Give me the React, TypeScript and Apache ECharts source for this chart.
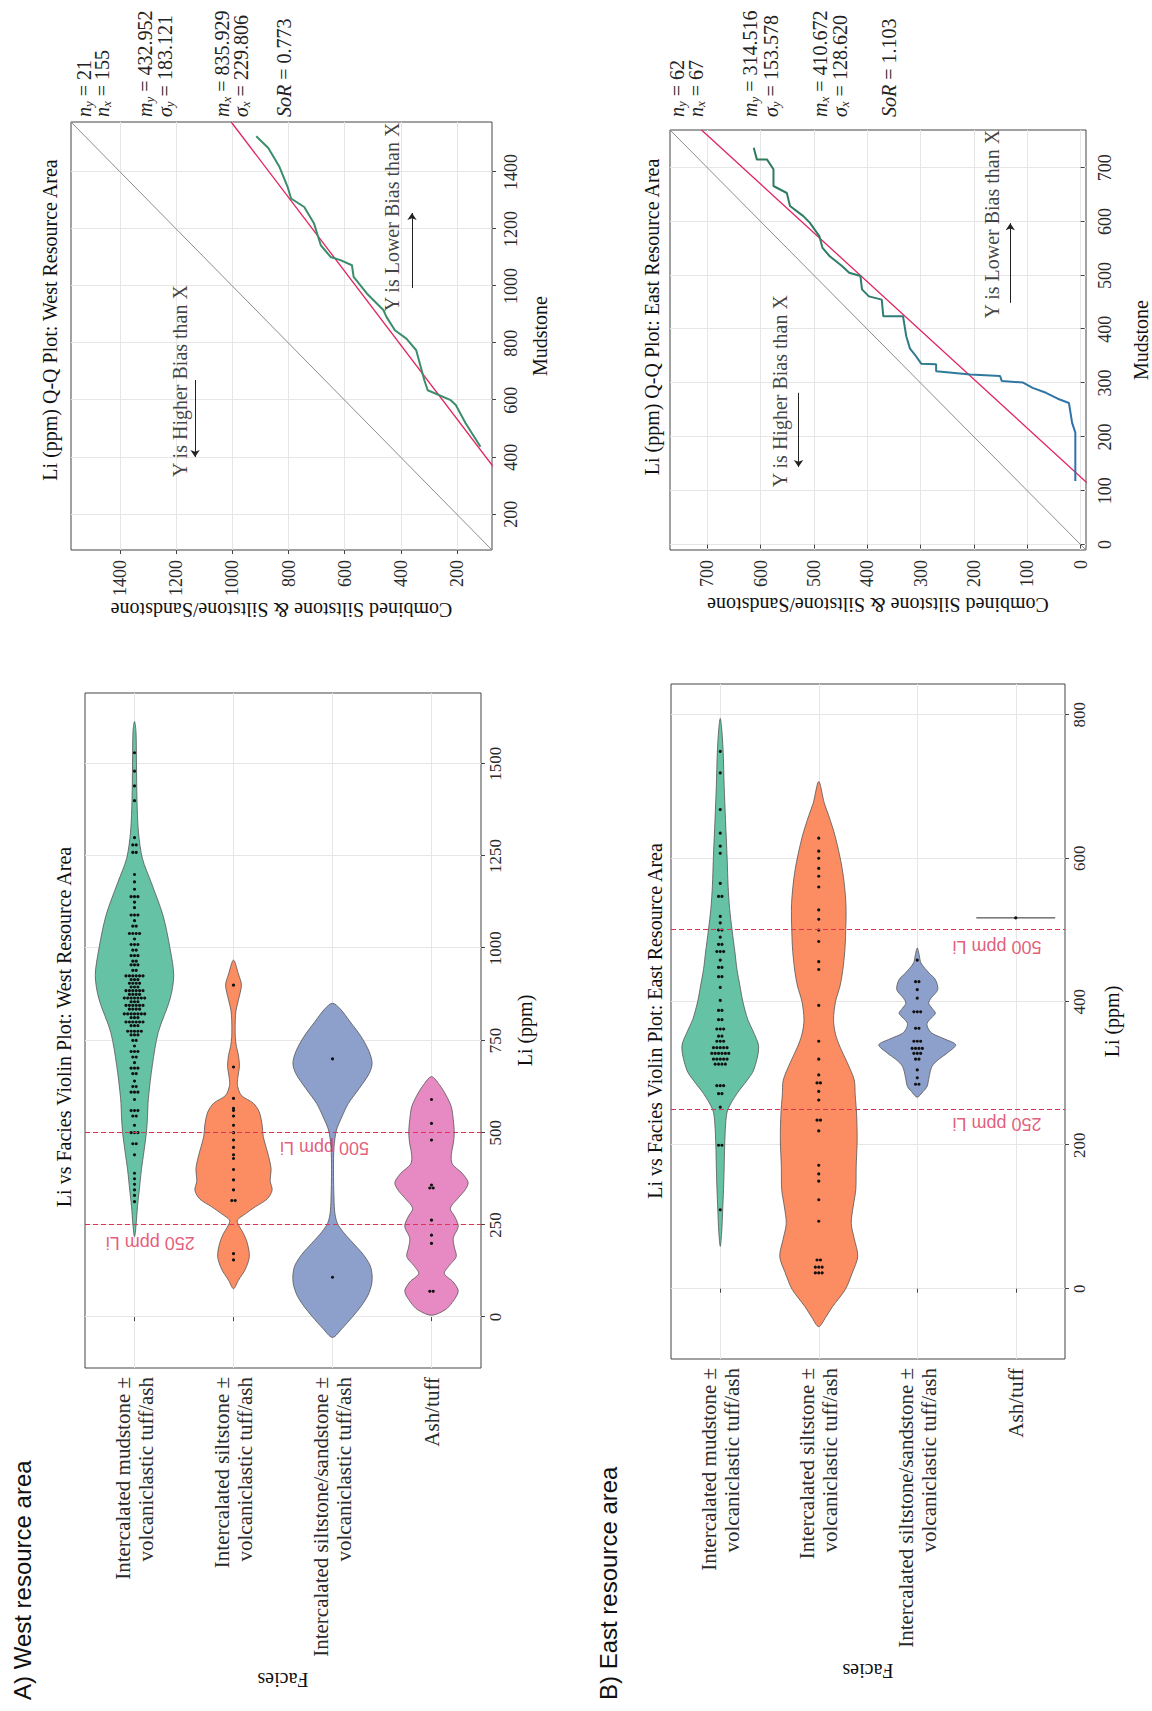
import React, { useEffect, useRef } from 'react';
import * as echarts from 'echarts';

// ---------------- data ----------------
const FACIES = [
  'Intercalated mudstone ±\nvolcaniclastic tuff/ash',
  'Intercalated siltstone ±\nvolcaniclastic tuff/ash',
  'Intercalated siltstone/sandstone ±\nvolcaniclastic tuff/ash',
  'Ash/tuff',
];
const FACIES_POS = [1, 2, 3, 4];

const WEST_LI_TICKS = [0, 250, 500, 750, 1000, 1250, 1500];
const EAST_LI_TICKS = [0, 200, 400, 600, 800];
const WEST_QQ_TICKS = [200, 400, 600, 800, 1000, 1200, 1400];
const EAST_QQ_TICKS = [0, 100, 200, 300, 400, 500, 600, 700];

const WEST_LI_RANGE = [-138, 1692];
const EAST_LI_RANGE = [-98, 843];
const WEST_QQ_RANGE = [75, 1575];
const EAST_QQ_RANGE = [-10, 770];

const THRESHOLDS = [250, 500];
const THRESHOLD_NAMES = ['250 ppm Li', '500 ppm Li'];
const WEST_THRESHOLD_LABEL_POS = [[201, 1.16], [459, 2.92]];
const EAST_THRESHOLD_LABEL_POS = [[229, 3.81], [477, 3.81]];

// violin density profiles: [Li ppm, relative half-width]
const westMudstoneViolin = [[218, 0], [250, 0.04], [300, 0.075], [344, 0.12], [400, 0.175], [450, 0.24], [500, 0.3], [537, 0.325], [592, 0.35], [682, 0.45], [772, 0.6], [863, 0.9], [926, 0.99], [998, 0.9], [1089, 0.72], [1179, 0.42], [1243, 0.2], [1315, 0.1], [1405, 0.062], [1500, 0.05], [1587, 0.038], [1615, 0]];
const westSiltstoneViolin = [[77, 0], [100, 0.125], [130, 0.3], [164, 0.4], [200, 0.35], [227, 0.25], [250, 0.125], [263, 0.1], [280, 0.3], [299, 0.55], [320, 0.85], [344, 0.975], [370, 0.925], [400, 0.95], [430, 0.9], [460, 0.825], [490, 0.75], [520, 0.725], [556, 0.65], [580, 0.5], [601, 0.2], [628, 0.1], [650, 0.11], [680, 0.15], [710, 0.125], [733, 0.075], [760, 0.045], [805, 0.045], [832, 0.065], [860, 0.125], [900, 0.2], [930, 0.125], [968, 0]];
const westSandstoneViolin = [[-55, 0], [-30, 0.25], [0, 0.5], [30, 0.725], [60, 0.9], [90, 0.99], [114, 1], [140, 0.95], [170, 0.775], [200, 0.525], [230, 0.275], [254, 0.125], [280, 0.062], [320, 0.038], [400, 0.025], [460, 0.038], [507, 0.1], [540, 0.225], [579, 0.4], [620, 0.675], [660, 0.925], [688, 1], [720, 0.925], [760, 0.725], [800, 0.45], [835, 0.2], [851, 0]];
const westAshViolin = [[5, 0], [20, 0.35], [40, 0.525], [70, 0.675], [95, 0.55], [118, 0.325], [140, 0.45], [164, 0.625], [190, 0.575], [215, 0.55], [245, 0.675], [270, 0.6], [295, 0.475], [320, 0.65], [345, 0.85], [365, 0.925], [390, 0.775], [415, 0.525], [440, 0.5], [470, 0.55], [500, 0.575], [535, 0.55], [570, 0.5], [600, 0.375], [630, 0.2], [652, 0]];

const eastMudstoneViolin = [[59, 0], [80, 0.038], [110, 0.062], [138, 0.083], [170, 0.1], [200, 0.112], [230, 0.138], [249, 0.188], [272, 0.425], [290, 0.675], [305, 0.85], [337, 0.975], [360, 0.825], [375, 0.7], [400, 0.575], [422, 0.5], [445, 0.425], [468, 0.375], [500, 0.3], [530, 0.238], [561, 0.2], [600, 0.175], [654, 0.133], [700, 0.1], [747, 0.075], [780, 0.038], [795, 0]];
const eastSiltstoneViolin = [[-53, 0], [-40, 0.175], [-25, 0.35], [-1, 0.675], [22, 0.85], [45, 0.99], [70, 0.9], [91, 0.825], [115, 0.875], [138, 0.94], [170, 0.95], [208, 0.975], [244, 0.96], [270, 0.925], [291, 0.9], [315, 0.725], [337, 0.54], [355, 0.425], [375, 0.375], [400, 0.425], [422, 0.54], [444, 0.61], [470, 0.66], [491, 0.68], [537, 0.69], [584, 0.6], [630, 0.42], [660, 0.25], [677, 0.14], [707, 0]];
const eastSandstoneViolin = [[267, 0], [275, 0.15], [282, 0.25], [295, 0.3], [310, 0.375], [320, 0.55], [328, 0.75], [340, 0.975], [348, 0.7], [356, 0.375], [363, 0.275], [370, 0.25], [377, 0.35], [384, 0.46], [391, 0.375], [398, 0.29], [405, 0.35], [417, 0.52], [431, 0.46], [440, 0.3], [454, 0.095], [465, 0.05], [475, 0]];
const eastAshViolin = [[517, 1]];

// dot plots: [Li ppm, number of stacked dots]
const westMudstoneDots = [[313, 1], [330, 1], [345, 1], [360, 1], [375, 1], [390, 1], [440, 1], [470, 2], [500, 3], [520, 1], [545, 2], [560, 3], [590, 1], [610, 3], [625, 2], [640, 1], [660, 2], [675, 3], [690, 1], [705, 2], [720, 3], [735, 1], [750, 2], [765, 3], [775, 5], [790, 3], [800, 6], [812, 3], [822, 7], [835, 4], [845, 6], [855, 3], [865, 7], [875, 4], [885, 6], [895, 3], [905, 4], [915, 3], [925, 6], [940, 2], [955, 3], [965, 2], [980, 3], [995, 2], [1010, 3], [1025, 1], [1040, 4], [1060, 2], [1075, 1], [1090, 3], [1110, 1], [1125, 1], [1140, 3], [1160, 1], [1180, 1], [1200, 1], [1260, 2], [1280, 2], [1300, 1], [1400, 1], [1440, 1], [1480, 1], [1530, 1]];
const westSiltstoneDots = [[155, 1], [172, 1], [316, 2], [345, 1], [372, 1], [400, 1], [430, 1], [440, 1], [460, 1], [480, 1], [500, 1], [520, 1], [545, 1], [560, 1], [566, 1], [593, 1], [678, 1], [900, 1]];
const westSandstoneDots = [[108, 1], [700, 1]];
const westAshDots = [[70, 2], [200, 1], [222, 1], [263, 1], [350, 2], [358, 1], [480, 1], [525, 1], [590, 1]];

const eastMudstoneDots = [[110, 1], [200, 2], [253, 1], [272, 2], [283, 3], [313, 4], [320, 5], [328, 6], [336, 5], [345, 3], [352, 2], [362, 3], [375, 2], [388, 2], [402, 1], [420, 1], [435, 2], [448, 2], [458, 1], [470, 3], [480, 2], [490, 1], [500, 2], [510, 1], [519, 1], [547, 2], [565, 1], [607, 1], [617, 1], [635, 1], [668, 1], [719, 1], [749, 1]];
const eastSiltstoneDots = [[22, 3], [30, 3], [40, 2], [94, 1], [124, 1], [150, 1], [160, 1], [172, 1], [220, 1], [235, 2], [263, 1], [275, 1], [287, 2], [298, 1], [320, 1], [345, 1], [395, 1], [445, 1], [456, 1], [484, 1], [500, 1], [515, 1], [528, 1], [560, 1], [575, 1], [586, 1], [600, 1], [610, 1], [628, 1]];
const eastSandstoneDots = [[285, 2], [294, 1], [305, 1], [320, 2], [328, 3], [335, 4], [345, 3], [363, 2], [386, 3], [405, 1], [417, 1], [428, 2], [458, 1]];
const eastAshDots = [[517, 1]];

// Q-Q quantile pairs: [Mudstone, Combined siltstone & siltstone/sandstone]
const westQQ = [[437, 116], [519, 169], [583, 204], [600, 222], [635, 304], [670, 316], [775, 345], [816, 380], [845, 421], [892, 451], [916, 462], [974, 521], [1032, 568], [1073, 574], [1091, 615], [1102, 650], [1143, 685], [1219, 709], [1277, 744], [1307, 791], [1347, 803], [1417, 832], [1484, 872], [1525, 915]];
const eastQQ = [[118, 10], [208, 10], [226, 16], [263, 22], [271, 43], [282, 65], [291, 90], [301, 108], [304, 148], [313, 151], [316, 207], [322, 271], [335, 271], [336, 299], [353, 311], [364, 320], [387, 327], [424, 333], [424, 370], [455, 373], [461, 397], [474, 410], [499, 413], [505, 434], [517, 447], [536, 471], [551, 484], [573, 490], [598, 508], [610, 520], [629, 545], [653, 551], [666, 576], [697, 576], [715, 588], [715, 607], [737, 613]];

// summary statistics [y, x]
const WEST_N = [21, 155];
const WEST_MEAN = [432.952, 835.929];
const WEST_SD = [183.121, 229.806];
const WEST_SOR = 0.773;
const EAST_N = [62, 67];
const EAST_MEAN = [314.516, 410.672];
const EAST_SD = [153.578, 128.62];
const EAST_SOR = 1.103;

// bias annotations (data coordinates)
const WEST_BIAS_TEXT = [[667, 1187], [1242, 431]];
const WEST_BIAS_ARROWS = [[[671, 1133], [401, 1133]], [[993, 360], [1256, 360]]];
const EAST_BIAS_TEXT = [[285, 563], [595, 167]];
const EAST_BIAS_ARROWS = [[[282, 529], [144, 529]], [[449, 132], [597, 132]]];
const BIAS_NAMES = ['Y is Higher Bias than X', 'Y is Lower Bias than X'];

// ---------------- styling / layout ----------------
const W = 1711;
const H = 1152;
const SERIF = '"Liberation Serif", "Times New Roman", serif';
const SANS = '"Liberation Sans", Arial, sans-serif';
const SET2 = ['#66c2a5', '#fc8d62', '#8da0cb', '#e78ac3'];
const RED = '#dc3358';
const FIT_RED = '#e0245e';
const VIOLIN_HALF = 0.4;
const DOT_R = 1.6;
const DOT_GAP = 3.4;

const GRIDS = [
  { left: 343, top: 85, width: 675, height: 396 },
  { left: 1161, top: 71, width: 428, height: 421 },
  { left: 352, top: 671, width: 675, height: 394 },
  { left: 1161, top: 670, width: 420, height: 418 },
];

function violinRenderer(profiles: number[][][]) {
  return (params: any, api: any) => {
    const idx = api.value(2);
    const cat = api.value(1);
    const prof = profiles[idx];
    const band = Math.abs(api.size([0, 1])[1]);
    const half = band * VIOLIN_HALF;
    const upper: number[][] = [];
    const lower: number[][] = [];
    prof.forEach(([v, d]) => {
      const p = api.coord([v, cat]);
      upper.push([p[0], p[1] - d * half]);
      if (d > 0) lower.push([p[0], p[1] + d * half]);
    });
    const pts = upper.concat(lower.reverse());
    return {
      type: 'polygon',
      shape: { points: pts, smooth: prof.length > 2 ? 0.3 : 0 },
      style: { fill: SET2[idx], stroke: '#555', lineWidth: 0.8 },
    };
  };
}

function dotRenderer(params: any, api: any) {
  const v = api.value(0);
  const cat = api.value(1);
  const n = api.value(2);
  const p = api.coord([v, cat]);
  const children: any[] = [];
  for (let i = 0; i < n; i++) {
    children.push({
      type: 'circle',
      shape: { cx: p[0], cy: p[1] + (i - (n - 1) / 2) * DOT_GAP, r: DOT_R },
      style: { fill: '#111' },
    });
  }
  return { type: 'group', children };
}

function valueAxis(grid: number, range: number[], ticks: number[], fontSize: number, name: string, nameGap: number, extra: any = {}) {
  return {
    gridIndex: grid,
    type: 'value',
    min: range[0],
    max: range[1],
    name,
    nameLocation: 'middle',
    nameGap,
    nameTextStyle: { fontFamily: SERIF, fontSize: 20, color: '#111' },
    axisLine: { show: false },
    axisTick: { show: true, length: 4, customValues: ticks, lineStyle: { color: '#444', width: 1 } },
    axisLabel: {
      customValues: ticks,
      fontFamily: SERIF,
      fontSize,
      color: '#2a2a2a',
      margin: extra.margin ?? 8,
      formatter: (v: number) => String(v),
      ...(extra.label || {}),
    },
    splitLine: { show: true, lineStyle: { color: '#e6e6e6', width: 1 } },
    ...(extra.axis || {}),
  };
}

function faciesAxis(grid: number) {
  return valueAxis(grid, [0.5, 4.5], FACIES_POS, 21, 'Facies', 302, {
    margin: 9,
    label: { lineHeight: 23, formatter: (v: number) => FACIES[Math.round(v) - 1] || '' },
    axis: { inverse: true },
  });
}

function violinSeries(grid: number, profiles: number[][][], dots: number[][][], labelPos: number[][]) {
  return [
    {
      type: 'custom',
      xAxisIndex: grid,
      yAxisIndex: grid,
      silent: true,
      encode: { x: 0, y: 1 },
      renderItem: violinRenderer(profiles),
      data: profiles.map((p, i) => [p[0][0], FACIES_POS[i], i]),
      markLine: {
        silent: true,
        symbol: ['none', 'none'],
        label: { show: false },
        lineStyle: { color: RED, type: [5, 3], width: 1 },
        data: THRESHOLDS.map((t) => ({ xAxis: t })),
      },
      z: 3,
    },
    {
      type: 'custom',
      xAxisIndex: grid,
      yAxisIndex: grid,
      silent: true,
      encode: { x: 0, y: 1 },
      renderItem: dotRenderer,
      data: dots.flatMap((arr, i) => arr.map(([v, n]) => [v, FACIES_POS[i], n])),
      z: 4,
    },
    {
      type: 'scatter',
      xAxisIndex: grid,
      yAxisIndex: grid,
      silent: true,
      symbolSize: 0,
      data: labelPos.map((p, i) => ({ value: p, name: THRESHOLD_NAMES[i] })),
      label: { show: true, position: 'inside', rotate: 90, formatter: '{b}', fontFamily: SANS, fontSize: 18, color: RED },
      z: 5,
    },
  ];
}

function qqSeries(grid: number, range: number[], pts: number[][], mean: number[], sor: number, color: any, textPos: number[][], arrows: number[][][]) {
  const fit = range.map((x) => [x, mean[0] + sor * (x - mean[1])]);
  return [
    {
      type: 'line', xAxisIndex: grid, yAxisIndex: grid, silent: true, symbol: 'none',
      data: range.map((v) => [v, v]),
      lineStyle: { color: '#8c8c8c', width: 1 }, z: 2,
    },
    {
      type: 'line', xAxisIndex: grid, yAxisIndex: grid, silent: true, symbol: 'none', clip: true,
      data: fit, lineStyle: { color: FIT_RED, width: 1.3 }, z: 3,
    },
    {
      type: 'line', xAxisIndex: grid, yAxisIndex: grid, silent: true, symbol: 'none',
      data: pts, lineStyle: { color, width: 2 }, z: 4,
      markLine: {
        silent: true,
        symbol: ['none', 'arrow'],
        symbolSize: 7,
        label: { show: false },
        lineStyle: { color: '#222', width: 1, type: 'solid' },
        data: arrows.map(([a, b]) => [{ coord: a }, { coord: b }]),
      },
    },
    {
      type: 'scatter', xAxisIndex: grid, yAxisIndex: grid, silent: true, symbolSize: 0,
      data: textPos.map((p, i) => ({ value: p, name: BIAS_NAMES[i] })),
      label: { show: true, position: 'inside', formatter: '{b}', fontFamily: SERIF, fontSize: 20, color: '#111' },
      z: 5,
    },
  ];
}

function textEl(text: string, x: number, y: number, font: string, size: number, align = 'center', extra: any = {}) {
  return {
    type: 'text',
    x,
    y,
    style: {
      text,
      fontFamily: font,
      fontSize: size,
      fill: '#111',
      align,
      textAlign: align,
      verticalAlign: 'middle',
      textVerticalAlign: 'middle',
      ...extra,
    },
  };
}

const STAT_RICH = {
  i: { fontFamily: SERIF, fontSize: 20, fontStyle: 'italic', fill: '#222' },
  s: { fontFamily: SERIF, fontSize: 13, fontStyle: 'italic', fill: '#222', verticalAlign: 'bottom', lineHeight: 22 },
};

function statBlock(n: number[], mean: number[], sd: number[], sor: number, x: number, ys: number[]) {
  const rows = [
    `{i|n}{s|y} = ${n[0]}`,
    `{i|n}{s|x} = ${n[1]}`,
    `{i|m}{s|y} = ${mean[0].toFixed(3)}`,
    `{i|σ}{s|y} = ${sd[0].toFixed(3)}`,
    `{i|m}{s|x} = ${mean[1].toFixed(3)}`,
    `{i|σ}{s|x} = ${sd[1].toFixed(3)}`,
    `{i|SoR} = ${sor.toFixed(3)}`,
  ];
  return rows.map((r, i) => textEl(r, x, ys[i], SERIF, 20, 'left', { rich: STAT_RICH, fill: '#222', lineHeight: 22 }));
}

function buildOption() {
  const eastGradient = new echarts.graphic.LinearGradient(0, 1, 1, 0, [
    { offset: 0, color: '#2f6fb0' },
    { offset: 0.35, color: '#2f7a9a' },
    { offset: 0.6, color: '#2f7d70' },
    { offset: 1, color: '#2e7a58' },
  ]);
  return {
    animation: false,
    backgroundColor: '#ffffff',
    grid: GRIDS.map((g) => ({ ...g, show: true, borderColor: '#444', borderWidth: 1, backgroundColor: 'transparent' })),
    xAxis: [
      valueAxis(0, WEST_LI_RANGE, WEST_LI_TICKS, 17, 'Li (ppm)', 34, { margin: 6 }),
      valueAxis(1, WEST_QQ_RANGE, WEST_QQ_TICKS, 18, 'Mudstone', 38, { margin: 10 }),
      valueAxis(2, EAST_LI_RANGE, EAST_LI_TICKS, 17, 'Li (ppm)', 37, { margin: 6 }),
      valueAxis(3, EAST_QQ_RANGE, EAST_QQ_TICKS, 18, 'Mudstone', 45, { margin: 10 }),
    ],
    yAxis: [
      faciesAxis(0),
      valueAxis(1, WEST_QQ_RANGE, WEST_QQ_TICKS, 18, 'Combined Siltstone & Siltstone/Sandstone', 45, { margin: 10 }),
      faciesAxis(2),
      valueAxis(3, EAST_QQ_RANGE, EAST_QQ_TICKS, 18, 'Combined Siltstone & Siltstone/Sandstone', 45, { margin: 10 }),
    ],
    series: [
      ...violinSeries(0, [westMudstoneViolin, westSiltstoneViolin, westSandstoneViolin, westAshViolin],
        [westMudstoneDots, westSiltstoneDots, westSandstoneDots, westAshDots], WEST_THRESHOLD_LABEL_POS),
      ...qqSeries(1, WEST_QQ_RANGE, westQQ, WEST_MEAN, WEST_SOR, '#3b8d6b', WEST_BIAS_TEXT, WEST_BIAS_ARROWS),
      ...violinSeries(2, [eastMudstoneViolin, eastSiltstoneViolin, eastSandstoneViolin, eastAshViolin],
        [eastMudstoneDots, eastSiltstoneDots, eastSandstoneDots, eastAshDots], EAST_THRESHOLD_LABEL_POS),
      ...qqSeries(3, EAST_QQ_RANGE, eastQQ, EAST_MEAN, EAST_SOR, eastGradient, EAST_BIAS_TEXT, EAST_BIAS_ARROWS),
    ],
    graphic: [
      textEl('A) West resource area', 11, 22, SANS, 24, 'left'),
      textEl('B) East resource area', 11, 608, SANS, 24, 'left'),
      textEl('Li vs Facies Violin Plot: West Resource Area', 684, 64, SERIF, 20),
      textEl('Li vs Facies Violin Plot: East Resource Area', 690, 655, SERIF, 20),
      textEl('Li (ppm) Q-Q Plot: West Resource Area', 1391, 50, SERIF, 20),
      textEl('Li (ppm) Q-Q Plot: East Resource Area', 1394, 652, SERIF, 20),
      ...statBlock(WEST_N, WEST_MEAN, WEST_SD, WEST_SOR, 1594, [84, 102, 145, 165, 222, 241, 284]),
      ...statBlock(EAST_N, EAST_MEAN, EAST_SD, EAST_SOR, 1594, [677, 696, 750, 771, 820, 840, 889]),
    ],
  };
}

export default function App() {
  const ref = useRef<HTMLDivElement>(null);
  useEffect(() => {
    if (!ref.current) return;
    const chart = echarts.init(ref.current, null, { renderer: 'svg', width: W, height: H });
    chart.setOption(buildOption() as any);
    return () => chart.dispose();
  }, []);
  return (
    <div style={{ position: 'absolute', left: 0, top: 0, width: 1152, height: 1711, overflow: 'hidden', background: '#fff' }}>
      <div
        ref={ref}
        style={{
          position: 'absolute',
          left: 0,
          top: 0,
          width: W,
          height: H,
          transformOrigin: '0 0',
          transform: `translate(0px, ${W}px) rotate(-90deg)`,
        }}
      />
    </div>
  );
}
